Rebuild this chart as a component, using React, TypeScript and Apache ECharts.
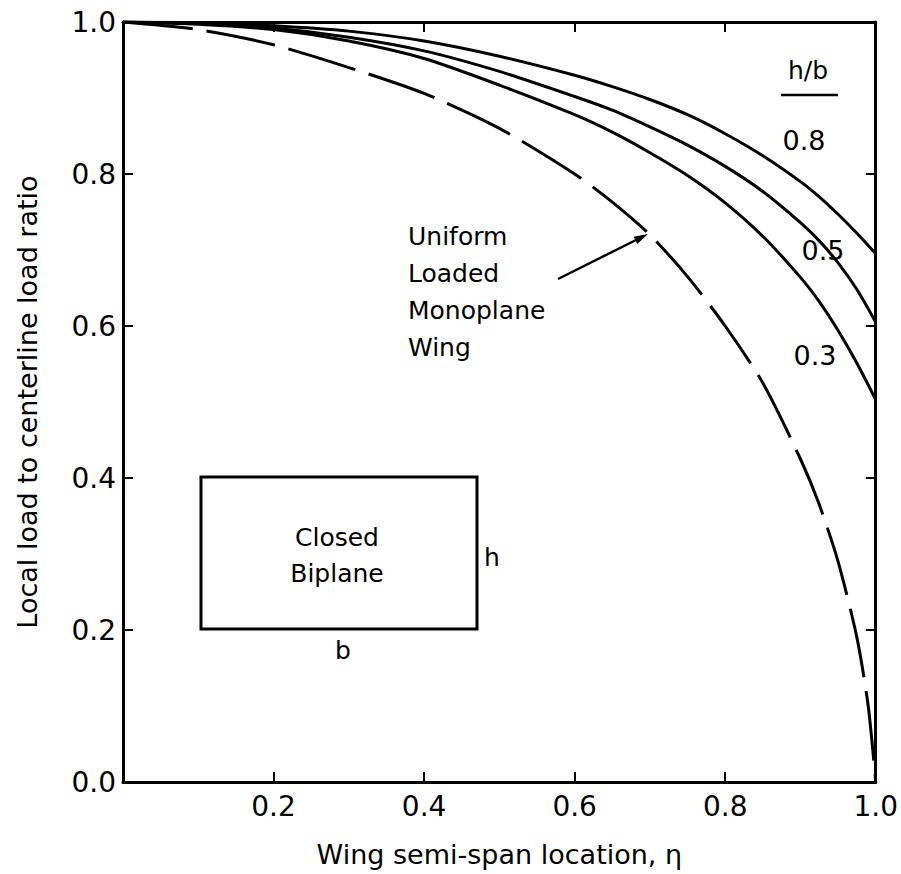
import React, { useEffect, useRef } from "react";
import * as echarts from "echarts";

// Spanwise stations (wing semi-span location, eta)
const eta = [0, 0.1, 0.2, 0.3, 0.4, 0.5, 0.6, 0.65, 0.7, 0.75, 0.8, 0.85, 0.9, 0.925, 0.95, 0.975, 1.0];
// Closed biplane, h/b = 0.8
const hb08 = [1.0, 0.999, 0.995, 0.988, 0.975, 0.955, 0.93, 0.915, 0.898, 0.878, 0.853, 0.824, 0.79, 0.77, 0.747, 0.722, 0.695];
// Closed biplane, h/b = 0.5
const hb05 = [1.0, 0.998, 0.992, 0.98, 0.962, 0.935, 0.902, 0.884, 0.862, 0.838, 0.81, 0.777, 0.736, 0.712, 0.683, 0.648, 0.605];
// Closed biplane, h/b = 0.3
const hb03 = [1.0, 0.997, 0.99, 0.975, 0.952, 0.917, 0.878, 0.855, 0.828, 0.798, 0.762, 0.718, 0.664, 0.632, 0.594, 0.551, 0.503];
// Uniform loaded monoplane wing (dashed)
const monoEta = [0, 0.1, 0.2, 0.3, 0.4, 0.5, 0.6, 0.65, 0.7, 0.75, 0.8, 0.85, 0.9, 0.925, 0.95, 0.975, 0.99, 1.0];
const monoplane = [1.0, 0.99, 0.97, 0.94, 0.906, 0.86, 0.8, 0.763, 0.72, 0.665, 0.6, 0.525, 0.425, 0.365, 0.29, 0.19, 0.1, 0.0];

const curveLabels = ["0.8", "0.5", "0.3"];

const FONT = "DejaVu Sans";

export default function App() {
  const ref = useRef<HTMLDivElement>(null);
  useEffect(() => {
    if (!ref.current) return;
    const chart = echarts.init(ref.current, undefined, { renderer: "svg" });
    const pair = (xs: number[], ys: number[]) => xs.map((x, i) => [x, ys[i]]);
    const solid = { color: "#000", width: 3 };
    const axisCommon = {
      type: "value" as const,
      min: 0,
      max: 1,
      interval: 0.2,
      axisLine: { show: true, onZero: false, lineStyle: { color: "#000", width: 3 } },
      axisTick: { show: true, inside: true, length: 10, lineStyle: { color: "#000", width: 2 } },
      splitLine: { show: false },
    };
    const textStyle = { fontFamily: FONT, fill: "#000" };
    const lineSeries = (name: string, xs: number[], ys: number[], lineStyle: object) => ({
      type: "line",
      name,
      data: pair(xs, ys),
      symbol: "none",
      smooth: 0.25,
      lineStyle,
    });
    chart.setOption({
      animation: false,
      backgroundColor: "#fff",
      grid: { left: 123, right: 23, top: 22, bottom: 92 },
      xAxis: [
        {
          ...axisCommon,
          position: "bottom",
          name: "Wing semi-span location, η",
          nameLocation: "middle",
          nameGap: 59,
          nameTextStyle: { fontFamily: FONT, fontSize: 27, color: "#000" },
          axisLabel: {
            fontFamily: FONT,
            fontSize: 28,
            color: "#000",
            margin: 10,
            formatter: (v: number) => (v === 0 ? "" : v.toFixed(1)),
          },
        },
        { ...axisCommon, position: "top", axisLabel: { show: false } },
      ],
      yAxis: [
        {
          ...axisCommon,
          position: "left",
          name: "Local load to centerline load ratio",
          nameLocation: "middle",
          nameGap: 82,
          nameTextStyle: { fontFamily: FONT, fontSize: 27, color: "#000" },
          axisLabel: {
            fontFamily: FONT,
            fontSize: 28,
            color: "#000",
            margin: 7,
            formatter: (v: number) => v.toFixed(1),
          },
        },
        { ...axisCommon, position: "right", axisLabel: { show: false } },
      ],
      series: [
        lineSeries("h/b 0.8", eta, hb08, solid),
        lineSeries("h/b 0.5", eta, hb05, solid),
        lineSeries("h/b 0.3", eta, hb03, solid),
        lineSeries("Uniform Loaded Monoplane Wing", monoEta, monoplane, { color: "#000", width: 3, type: [70, 14] }),
      ],
      graphic: [
        { type: "text", x: 808, y: 70, style: { ...textStyle, text: "h/b", fontSize: 25, align: "center", verticalAlign: "middle" } },
        { type: "line", shape: { x1: 781, y1: 95, x2: 838, y2: 95 }, style: { stroke: "#000", lineWidth: 2.5 } },
        { type: "text", x: 804, y: 140, style: { ...textStyle, text: curveLabels[0], fontSize: 27, align: "center", verticalAlign: "middle" } },
        { type: "text", x: 823, y: 250, style: { ...textStyle, text: curveLabels[1], fontSize: 27, align: "center", verticalAlign: "middle" } },
        { type: "text", x: 815, y: 355, style: { ...textStyle, text: curveLabels[2], fontSize: 27, align: "center", verticalAlign: "middle" } },
        {
          type: "text",
          x: 408,
          y: 218,
          style: { ...textStyle, text: "Uniform\nLoaded\nMonoplane\nWing", fontSize: 25, lineHeight: 37, align: "left", verticalAlign: "top" },
        },
        { type: "line", shape: { x1: 558, y1: 279, x2: 638, y2: 239 }, style: { stroke: "#000", lineWidth: 2.5 } },
        { type: "polygon", shape: { points: [[648, 234], [637.3, 243.9], [633.7, 236.7]] }, style: { fill: "#000" } },
        { type: "rect", shape: { x: 201, y: 477, width: 276, height: 152 }, style: { stroke: "#000", lineWidth: 3, fill: "none" } },
        {
          type: "text",
          x: 337,
          y: 555,
          style: { ...textStyle, text: "Closed\nBiplane", fontSize: 25, lineHeight: 36, align: "center", verticalAlign: "middle" },
        },
        { type: "text", x: 492, y: 557, style: { ...textStyle, text: "h", fontSize: 25, align: "center", verticalAlign: "middle" } },
        { type: "text", x: 343, y: 650, style: { ...textStyle, text: "b", fontSize: 25, align: "center", verticalAlign: "middle" } },
      ],
    });
    return () => chart.dispose();
  }, []);
  return <div ref={ref} style={{ width: 901, height: 874, position: "absolute", left: 0, top: 0 }} />;
}
